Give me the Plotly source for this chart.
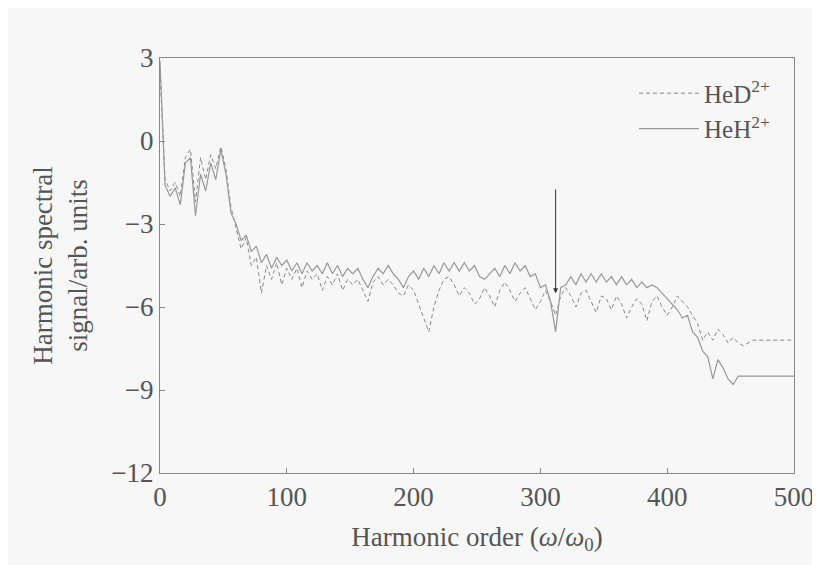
import plotly.graph_objects as go

# harmonic order sampled every 4 harmonics
heh = [2.9, -1.6, -2.0, -1.7, -2.3, -0.8, -0.6, -2.7, -1.2, -1.8, -0.8, -1.4, -0.3, -1.2, -2.6, -3.0,
       -3.6, -3.4, -4.0, -3.8, -4.4, -4.1, -4.6, -4.2, -4.5, -4.3, -4.7, -4.4, -4.8, -4.4, -4.7, -4.5,
       -4.8, -4.4, -4.8, -4.5, -4.9, -4.6, -4.8, -4.6, -5.0, -5.3, -4.9, -4.6, -4.8, -4.5, -4.8, -5.0,
       -5.3, -4.9, -4.7, -5.0, -4.6, -4.9, -4.5, -4.8, -4.4, -4.7, -4.4, -4.7, -4.4, -4.7, -4.5, -4.9,
       -5.0, -4.8, -4.6, -4.9, -4.5, -4.8, -4.4, -4.7, -4.5, -4.9, -4.8, -5.3, -5.2, -5.8, -6.9, -5.3,
       -5.2, -4.9, -5.2, -4.8, -5.1, -4.8, -5.1, -4.8, -5.1, -4.9, -5.2, -4.9, -5.2, -5.0, -5.3, -5.1,
       -5.3, -5.2, -5.3, -5.5, -5.7, -5.9, -6.1, -6.4, -6.3, -6.9, -7.1, -7.6, -7.8, -8.6, -7.9, -8.2,
       -8.6, -8.8, -8.5, -8.5, -8.5, -8.5, -8.5, -8.5, -8.5, -8.5, -8.5, -8.5, -8.5, -8.5]
hed = [2.5, -1.4, -1.8, -1.5, -2.0, -0.6, -0.3, -2.2, -0.6, -1.4, -0.5, -1.0, -0.2, -1.0, -2.4, -3.2,
       -3.9, -3.5, -4.5, -4.2, -5.5, -4.5, -5.0, -4.4, -5.2, -4.6, -5.0, -4.6, -5.3, -4.7, -5.0, -4.8,
       -5.4, -4.9, -5.2, -4.8, -5.4, -5.0, -5.2, -5.0, -5.4, -5.8, -5.1, -4.9, -5.2, -5.0, -5.2, -5.5,
       -5.6, -5.2, -5.4, -5.9, -6.4, -6.9, -6.0, -5.4, -5.0, -4.9, -5.2, -5.6, -5.3, -5.5, -5.9, -5.7,
       -5.3, -5.6, -6.0, -5.4, -5.1, -5.4, -5.8, -5.5, -5.3, -5.7, -6.1, -5.8, -5.4, -5.8, -6.3, -5.6,
       -5.3, -5.6, -6.0, -5.5, -5.4, -5.8, -6.2, -5.6, -5.7, -6.1, -5.6, -5.9, -6.4, -6.0, -5.7, -5.9,
       -6.5, -5.8, -5.6, -6.0, -6.3, -6.0, -5.6, -5.8, -6.0, -6.3, -6.6, -7.2, -6.9, -7.2, -6.8, -7.0,
       -7.3, -7.1, -7.3, -7.4, -7.3, -7.2, -7.2, -7.2, -7.2, -7.2, -7.2, -7.2, -7.2, -7.2]
order_heh = [4 * i for i in range(len(heh))]
order_hed = [4 * i for i in range(len(hed))]

font = "Liberation Serif"
grey = "#555555"

fig = go.Figure()
fig.add_trace(go.Scatter(x=order_hed, y=hed, mode="lines", name="HeD<sup>2+</sup>",
                         line=dict(color="#888888", width=1, dash="4px,3px")))
fig.add_trace(go.Scatter(x=order_heh, y=heh, mode="lines", name="HeH<sup>2+</sup>",
                         line=dict(color="#999999", width=1.2)))

fig.add_annotation(x=312, y=-5.5, ax=312, ay=-1.7, xref="x", yref="y", axref="x", ayref="y",
                   text="", showarrow=True, arrowhead=2, arrowsize=1, arrowwidth=1, arrowcolor="#333")

axis = dict(showline=True, linecolor="#888", mirror=True, ticks="inside", ticklen=5,
            tickcolor="#888", showgrid=False, zeroline=False,
            tickfont=dict(family=font, size=27, color=grey))
fig.update_xaxes(axis, range=[0, 500], dtick=100,
                 title=dict(text="Harmonic order (<i>ω</i>/<i>ω</i><sub>0</sub>)",
                            font=dict(family=font, size=27, color=grey)))
fig.update_yaxes(axis, range=[-12, 3], dtick=3,
                 title=dict(text="Harmonic spectral<br>signal/arb. units",
                            font=dict(family=font, size=27, color=grey)))
fig.update_layout(
    width=820, height=565, margin=dict(l=152, r=34, t=50, b=100),
    paper_bgcolor="#f7f7f7", plot_bgcolor="#f7f7f7",
    legend=dict(x=0.97, y=0.97, xanchor="right", yanchor="top", bgcolor="rgba(0,0,0,0)",
                font=dict(family=font, size=25, color=grey), itemwidth=60),
)
fig.write_html("out.html")
